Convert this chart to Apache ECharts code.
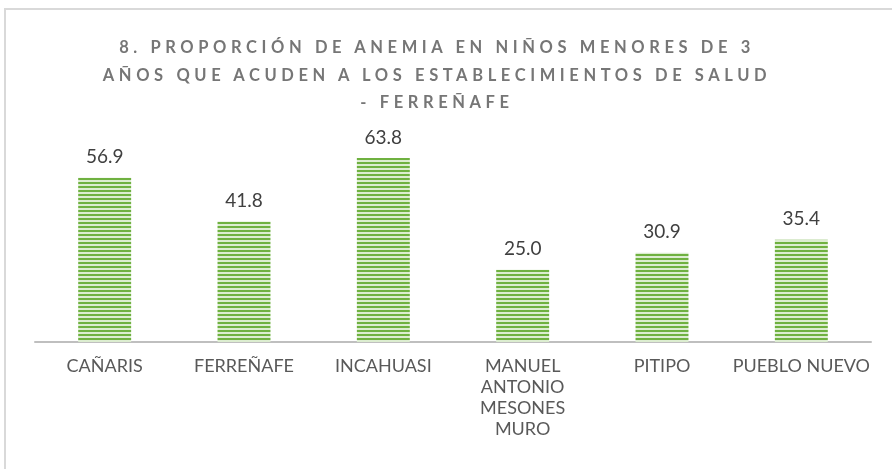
<!DOCTYPE html>
<html>
<head>
<meta charset="utf-8">
<script src="https://cdn.jsdelivr.net/npm/echarts@6/dist/echarts.min.js"></script>
<style>
  html, body { margin: 0; padding: 0; background: #fff; }
  #wrap { position: relative; width: 892px; height: 469px; overflow: hidden; }
  #main { width: 892px; height: 469px; }
  #title {
    position: absolute; left: 0; top: 34px; width: 874px;
    text-align: center; font-family: Lato, "Open Sans", sans-serif;
    font-weight: bold; font-size: 16.5px; line-height: 27.5px;
    letter-spacing: 4.6px; color: #767676;
  }
</style>
</head>
<body>
<div id="wrap">
  <div id="main"></div>
  <div id="title">8. PROPORCIÓN DE ANEMIA EN NIÑOS MENORES DE 3<br>AÑOS QUE ACUDEN A LOS ESTABLECIMIENTOS DE SALUD<br>- FERREÑAFE</div>
</div>
<script>
const categories = ['CAÑARIS', 'FERREÑAFE', 'INCAHUASI', 'MANUEL ANTONIO MESONES MURO', 'PITIPO', 'PUEBLO NUEVO'];
const values = [56.9, 41.8, 63.8, 25.0, 30.9, 35.4];

// horizontal stripes for the bars
let stripe = document.createElement('canvas');
stripe.width = 4;
stripe.height = 4;
let ctx = stripe.getContext('2d');
ctx.fillStyle = '#dcedd0';
ctx.fillRect(0, 0, 4, 4);
ctx.fillStyle = '#6fb140';
ctx.fillRect(0, 2, 4, 2);

let chart = echarts.init(document.getElementById('main'));
let option = {
  animation: false,
  textStyle: { fontFamily: 'Lato, "Open Sans", sans-serif' },
  graphic: [{
    type: 'rect',
    shape: { x: 5, y: 9, width: 1000, height: 600 },
    style: { fill: 'none', stroke: '#d9d9d9', lineWidth: 2 }
  }],
  grid: { left: 35, right: 21, top: 140, bottom: 127 },
  xAxis: {
    type: 'category',
    data: categories,
    axisTick: { show: false },
    axisLine: { lineStyle: { color: '#bfbfbf', width: 2 } },
    axisLabel: {
      color: '#595959',
      fontSize: 18,
      margin: 14,
      lineHeight: 21,
      interval: 0,
      formatter: function (v) {
        return v.length > 14 ? v.split(' ').join('\n') : v;
      }
    }
  },
  yAxis: {
    type: 'value',
    min: 0,
    max: 70,
    show: false,
    splitLine: { show: false }
  },
  series: [{
    type: 'bar',
    data: values,
    barWidth: '38%',
    itemStyle: { color: { image: stripe, repeat: 'repeat' } },
    label: {
      show: true,
      position: 'top',
      distance: 11,
      color: '#404040',
      fontSize: 19,
      formatter: function (p) { return p.value.toFixed(1); }
    }
  }]
};
chart.setOption(option);
</script>
</body>
</html>
